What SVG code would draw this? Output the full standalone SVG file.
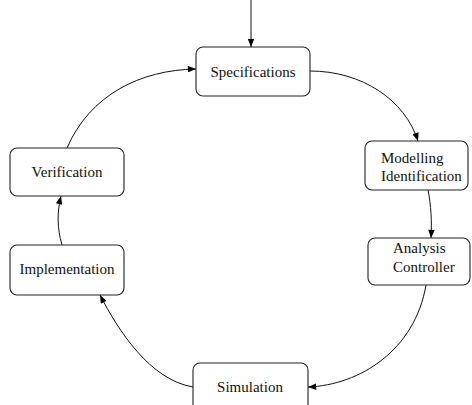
<svg xmlns="http://www.w3.org/2000/svg" width="472" height="405" viewBox="0 0 472 405">
<defs>
<marker id="ah" viewBox="0 0 10 8" refX="10" refY="4" markerWidth="9" markerHeight="6.5" markerUnits="userSpaceOnUse" orient="auto">
<path d="M0,0 L10,4 L0,8 Z" fill="#000"/>
</marker>
<style>
.box{fill:#fff;stroke:#222;stroke-width:1.1}
.lbl{font-family:"Liberation Serif","Times New Roman",serif;font-size:15px;fill:#111}
.c{text-anchor:middle}
.edge{fill:none;stroke:#111;stroke-width:1;marker-end:url(#ah)}
</style>
</defs>
<rect width="472" height="405" fill="#fff"/>
<g id="connectors">
<path class="edge" d="M251,0 L251,47"/>
<path class="edge" d="M310,71 C362,71 405,100 418,141"/>
<path class="edge" d="M428,190 C431,205 432,222 431,238"/>
<path class="edge" d="M426,285 C415,350 360,385 308,387"/>
<path class="edge" d="M193,387 C150,380 118,330 100,295"/>
<path class="edge" d="M62,245 C57,228 57,212 61,196"/>
<path class="edge" d="M67,148 C90,95 140,70 196,69"/>
</g>
<g id="specifications">
<rect class="box" x="196" y="47" width="114" height="49" rx="7"/>
<text class="lbl c" x="253" y="77">Specifications</text>
</g>
<g id="modelling">
<rect class="box" x="365" y="141" width="103" height="49" rx="7"/>
<text class="lbl" x="381" y="163">Modelling</text>
<text class="lbl" x="381" y="181">Identification</text>
</g>
<g id="analysis">
<rect class="box" x="368" y="238" width="102" height="47" rx="7"/>
<text class="lbl" x="393" y="253">Analysis</text>
<text class="lbl" x="393" y="272">Controller</text>
</g>
<g id="simulation">
<rect class="box" x="193" y="363" width="115" height="50" rx="7"/>
<text class="lbl c" x="250" y="392">Simulation</text>
</g>
<g id="implementation">
<rect class="box" x="10" y="245" width="114" height="50" rx="7"/>
<text class="lbl c" x="67" y="274">Implementation</text>
</g>
<g id="verification">
<rect class="box" x="10" y="148" width="114" height="48" rx="7"/>
<text class="lbl c" x="67" y="177">Verification</text>
</g>
</svg>
